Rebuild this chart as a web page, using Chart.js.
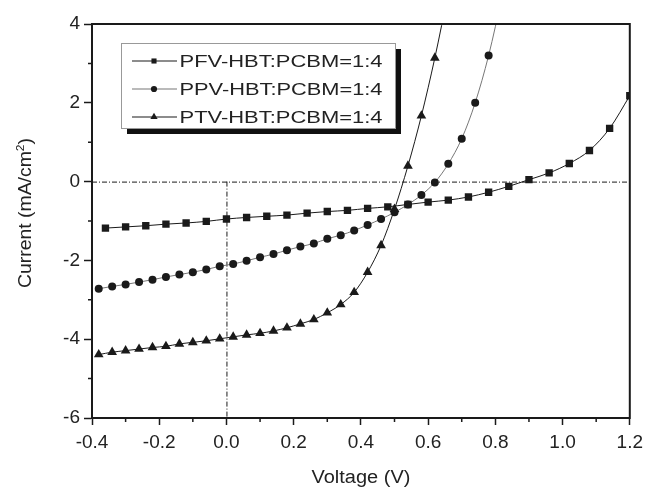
<!DOCTYPE html>
<html lang="en">
<head>
<meta charset="UTF-8">
<title>J-V curves</title>
<script src="https://cdn.jsdelivr.net/npm/chart.js"></script>
<style>
  body { margin: 0; background: #fff; }
  #wrap { width: 649px; height: 487px; }
</style>
</head>
<body>
<div id="wrap"><canvas id="jv" width="649" height="487"></canvas></div>
<script>
// voltage (V) / current density (mA/cm2)
const pfvV = [-0.36,-0.30,-0.24,-0.18,-0.12,-0.06,0.00,0.06,0.12,0.18,0.24,0.30,0.36,0.42,0.48,0.54,0.60,0.66,0.72,0.78,0.84,0.90,0.96,1.02,1.08,1.14,1.20];
const pfvI = [-1.18,-1.15,-1.12,-1.08,-1.05,-1.01,-0.95,-0.91,-0.88,-0.85,-0.80,-0.76,-0.73,-0.68,-0.64,-0.58,-0.52,-0.47,-0.39,-0.27,-0.12,0.05,0.22,0.46,0.79,1.35,2.18];

const ppvV = [-0.38,-0.34,-0.30,-0.26,-0.22,-0.18,-0.14,-0.10,-0.06,-0.02,0.02,0.06,0.10,0.14,0.18,0.22,0.26,0.30,0.34,0.38,0.42,0.46,0.50,0.54,0.58,0.62,0.66,0.70,0.74,0.78,0.82];
const ppvI = [-2.72,-2.66,-2.61,-2.55,-2.49,-2.42,-2.36,-2.30,-2.23,-2.15,-2.09,-2.01,-1.92,-1.84,-1.74,-1.65,-1.57,-1.45,-1.36,-1.24,-1.10,-0.95,-0.78,-0.58,-0.34,-0.02,0.45,1.09,2.00,3.20,4.70];

const ptvV = [-0.38,-0.34,-0.30,-0.26,-0.22,-0.18,-0.14,-0.10,-0.06,-0.02,0.02,0.06,0.10,0.14,0.18,0.22,0.26,0.30,0.34,0.38,0.42,0.46,0.50,0.54,0.58,0.62,0.66];
const ptvI = [-4.39,-4.33,-4.29,-4.25,-4.21,-4.18,-4.12,-4.08,-4.04,-3.99,-3.94,-3.89,-3.85,-3.79,-3.71,-3.61,-3.50,-3.33,-3.12,-2.81,-2.30,-1.62,-0.70,0.40,1.67,3.14,4.80];

const seriesNames = ['PFV-HBT:PCBM=1:4', 'PPV-HBT:PCBM=1:4', 'PTV-HBT:PCBM=1:4'];
const xTitle = 'Voltage (V)';
const yTitle = ['Current (mA/cm', '2', ')'];
const xMinor = [-0.3,-0.1,0.1,0.3,0.5,0.7,0.9,1.1];
const yMinor = [-5,-3,-1,1,3];

const FONT = "'Liberation Sans', Arial, sans-serif";
const INK = '#1a1a1a';
const TXT = '#222';

function pts(v, i) { return v.map((x, k) => ({ x: x, y: i[k] })); }

function series(label, data, style, line, r, legendR) {
  return {
    label: label, data: data,
    borderColor: line, borderWidth: 1,
    pointStyle: style, pointRadius: r, pointHoverRadius: r, legendRadius: legendR,
    pointBackgroundColor: INK, pointBorderColor: INK, pointBorderWidth: 0,
    cubicInterpolationMode: 'monotone', fill: false
  };
}

// text drawn with a horizontal stretch so it fills a given width
function stretchText(ctx, parts, size, width) {
  let w = 0;
  parts.forEach(p => { ctx.font = (p.sup ? size * 0.62 : size) + 'px ' + FONT; w += ctx.measureText(p.t).width; });
  ctx.scale(width / w, 1);
  let cx = -w / 2;
  parts.forEach(p => {
    ctx.font = (p.sup ? size * 0.62 : size) + 'px ' + FONT;
    ctx.fillText(p.t, cx, p.sup ? -size * 0.38 : 0);
    cx += ctx.measureText(p.t).width;
  });
}

const decor = {
  id: 'decor',
  beforeDatasetsDraw(chart) {
    const { ctx, chartArea: a, scales: { x, y } } = chart;
    const x0 = x.getPixelForValue(0), y0 = y.getPixelForValue(0);
    ctx.save();
    ctx.strokeStyle = INK; ctx.lineWidth = 1;
    ctx.setLineDash([5, 2, 1, 2]);
    ctx.beginPath();
    ctx.moveTo(a.left, y0 + 0.5); ctx.lineTo(a.right, y0 + 0.5);
    ctx.moveTo(x0 + 0.5, y0); ctx.lineTo(x0 + 0.5, a.bottom);
    ctx.stroke();
    ctx.restore();
  },
  afterDraw(chart) {
    const { ctx, chartArea: a, scales: { x, y } } = chart;
    ctx.save();
    // frame
    ctx.strokeStyle = INK; ctx.lineWidth = 2;
    ctx.strokeRect(a.left, a.top, a.right - a.left, a.bottom - a.top);
    // minor ticks
    ctx.lineWidth = 1.5;
    ctx.beginPath();
    xMinor.forEach(v => { const p = x.getPixelForValue(v); ctx.moveTo(p, a.bottom); ctx.lineTo(p, a.bottom + 4); });
    yMinor.forEach(v => { const p = y.getPixelForValue(v); ctx.moveTo(a.left, p); ctx.lineTo(a.left - 4, p); });
    ctx.stroke();

    // axis titles
    ctx.fillStyle = TXT;
    ctx.textBaseline = 'alphabetic';
    ctx.save();
    ctx.translate((a.left + a.right) / 2, 483);
    stretchText(ctx, [{ t: xTitle }], 18, 99);
    ctx.restore();
    ctx.save();
    ctx.translate(31, 213);
    ctx.rotate(-Math.PI / 2);
    stretchText(ctx, [{ t: yTitle[0] }, { t: yTitle[1], sup: true }, { t: yTitle[2] }], 18, 150);
    ctx.restore();

    // legend box with drop shadow
    const bx = a.left + 29, by = 43, bw = 274, bh = 85;
    ctx.fillStyle = '#111';
    ctx.fillRect(bx + 6, by + 6, bw, bh);
    ctx.fillStyle = '#fff';
    ctx.fillRect(bx, by, bw, bh);
    ctx.strokeStyle = '#999'; ctx.lineWidth = 1;
    ctx.strokeRect(bx + 0.5, by + 0.5, bw, bh);

    chart.data.datasets.forEach((ds, i) => {
      const cy = by + 18 + i * 28;
      ctx.strokeStyle = ds.borderColor; ctx.lineWidth = 1.2;
      ctx.beginPath(); ctx.moveTo(bx + 11, cy); ctx.lineTo(bx + 56, cy); ctx.stroke();
      ctx.fillStyle = INK;
      Chart.helpers.drawPoint(ctx, { pointStyle: ds.pointStyle, radius: ds.legendRadius, borderWidth: 0, rotation: 0 }, bx + 33, cy);
      ctx.fillStyle = TXT;
      ctx.textBaseline = 'middle';
      ctx.save();
      ctx.translate(bx + 59 + 101, cy + 1);
      stretchText(ctx, [{ t: ds.label }], 17, 203);
      ctx.restore();
    });
    ctx.restore();
  }
};

new Chart(document.getElementById('jv'), {
  type: 'line',
  data: {
    datasets: [
      series(seriesNames[0], pts(pfvV, pfvI), 'rect', INK, 5.2, 3.6),
      series(seriesNames[1], pts(ppvV, ppvI), 'circle', '#777', 4, 3.1),
      series(seriesNames[2], pts(ptvV, ptvI), 'triangle', INK, 5.6, 4.2)
    ]
  },
  options: {
    responsive: false,
    animation: false,
    layout: { padding: { top: 24, right: 16, left: 0, bottom: 0 } },
    plugins: { legend: { display: false }, tooltip: { enabled: false } },
    scales: {
      x: {
        type: 'linear', min: -0.4, max: 1.2,
        afterFit(s) { s.height = 69; },
        ticks: { stepSize: 0.2, color: TXT, padding: 6, font: { family: FONT, size: 19 },
                 callback: v => v.toFixed(1) },
        grid: { drawOnChartArea: false, drawTicks: true, tickLength: 7, tickWidth: 1.5, tickColor: INK },
        border: { display: true, color: INK, width: 2 },
        title: { display: false }
      },
      y: {
        type: 'linear', min: -6, max: 4,
        afterFit(s) { s.width = 92; },
        ticks: { stepSize: 2, color: TXT, padding: 4, font: { family: FONT, size: 19 } },
        grid: { drawOnChartArea: false, drawTicks: true, tickLength: 8, tickWidth: 1.5, tickColor: INK },
        border: { display: true, color: INK, width: 2 },
        title: { display: false }
      }
    }
  },
  plugins: [decor]
});
</script>
</body>
</html>
